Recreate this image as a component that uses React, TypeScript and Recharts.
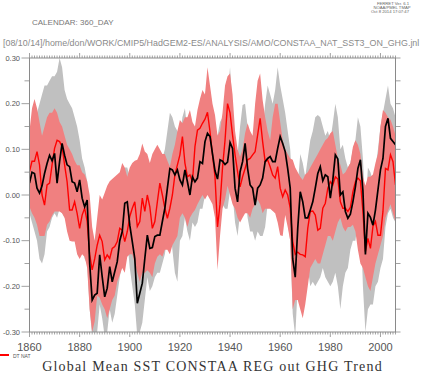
import React from 'react';
import { ComposedChart, Area, Line, XAxis, YAxis } from 'recharts';

// Years 1860..2006 (annual)
const years: number[] = Array.from({ length: 147 }, (_, i) => 1860 + i);

// Observed detrended SST (black line)
const obsDT = [
  0.026, 0.050, 0.047, 0.015, 0.004, 0.020, 0.047, 0.069, 0.087, 0.075,
  0.091, 0.026, 0.073, 0.113, 0.087, 0.066, 0.062, 0.029, 0.026, 0.007,
  0.033, -0.007, -0.026, -0.011, -0.150, -0.230, -0.219, -0.215, -0.131, -0.179,
  -0.223, -0.204, -0.157, -0.190, -0.168, -0.146, -0.100, -0.080, -0.018, -0.015,
  -0.066, -0.102, -0.139, -0.237, -0.215, -0.193, -0.139, -0.088, -0.117, -0.115,
  -0.091, -0.088, -0.088, -0.058, -0.029, 0.015, 0.058, 0.055, 0.044, 0.055,
  0.033, 0.022, 0.055, 0.029, 0.000, 0.040, 0.029, 0.037, 0.073, 0.069,
  0.117, 0.135, 0.128, 0.090, 0.053, 0.035, 0.077, 0.074, 0.067, 0.072,
  0.115, 0.102, 0.015, -0.015, 0.051, 0.073, 0.113, 0.058, 0.022, 0.015,
  -0.022, 0.015, 0.022, 0.037, 0.073, 0.080, 0.084, 0.073, 0.073, 0.102,
  0.128, 0.113, 0.095, 0.058, 0.015, -0.140, -0.180, -0.073, 0.007, -0.015,
  -0.050, -0.050, -0.033, -0.015, 0.015, 0.047, 0.062, 0.031, 0.044, 0.040,
  -0.007, 0.033, 0.088, 0.079, 0.000, 0.007, -0.036, -0.051, -0.042, -0.015,
  0.018, 0.058, 0.077, 0.010, -0.130, -0.040, -0.049, -0.066, -0.033, 0.011,
  0.055, 0.080, 0.150, 0.168, 0.124, 0.117, 0.110,
];

// DT NAT ensemble mean (red line)
const natDT = [
  0.051, 0.074, 0.074, 0.095, 0.066, 0.000, -0.022, 0.022, 0.026, 0.066,
  0.102, 0.120, 0.117, 0.106, 0.066, 0.029, -0.033, -0.033, -0.015, -0.040,
  -0.073, -0.044, -0.029, -0.058, -0.130, -0.164, -0.140, -0.110, -0.088, -0.102,
  -0.142, -0.131, -0.139, -0.117, -0.113, -0.102, -0.073, -0.077, -0.102, -0.080,
  -0.047, -0.029, -0.015, -0.069, -0.058, -0.007, -0.036, 0.000, -0.026, -0.073,
  -0.058, -0.015, 0.026, 0.000, -0.029, -0.051, -0.029, 0.000, 0.044, 0.066,
  0.088, 0.128, 0.070, 0.040, 0.044, 0.029, 0.106, 0.142, 0.146, 0.157,
  0.166, 0.181, 0.139, 0.088, 0.040, -0.070, -0.020, 0.060, 0.120, 0.200,
  0.180, 0.131, 0.088, 0.051, 0.018, 0.040, 0.058, 0.077, 0.080, 0.088,
  0.095, 0.131, 0.168, 0.117, 0.073, 0.077, 0.062, 0.044, 0.037, 0.062,
  0.015, -0.004, 0.011, 0.000, -0.029, -0.102, -0.130, -0.125, -0.130, -0.131,
  -0.135, -0.073, -0.036, -0.035, -0.044, -0.077, -0.073, -0.029, -0.018, 0.015,
  0.029, 0.022, 0.040, 0.035, -0.015, -0.029, -0.029, -0.036, -0.027, 0.007,
  0.029, 0.037, 0.031, -0.036, -0.124, -0.095, -0.117, -0.069, -0.058, -0.088,
  -0.088, -0.036, 0.058, 0.055, 0.088, 0.073, 0.022,
];

// DT NAT ensemble range (pink band)
const natHi = [
  0.14, 0.19, 0.21, 0.19, 0.16, 0.13, 0.15, 0.17, 0.18, 0.18,
  0.19, 0.18, 0.16, 0.15, 0.13, 0.11, 0.10, 0.09, 0.075, 0.065,
  0.065, 0.05, 0.045, 0.03, 0.0, -0.07, -0.10, -0.05, 0.0, -0.01,
  0.005, 0.02, 0.03, 0.035, 0.04, 0.045, 0.05, 0.07, 0.06, 0.04,
  0.06, 0.07, 0.075, 0.077, 0.09, 0.113, 0.095, 0.09, 0.07, 0.09,
  0.10, 0.11, 0.10, 0.09, 0.09, 0.075, 0.062, 0.09, 0.11, 0.14,
  0.164, 0.157, 0.17, 0.17, 0.186, 0.16, 0.15, 0.186, 0.21, 0.23,
  0.22, 0.28, 0.24, 0.20, 0.175, 0.13, 0.14, 0.18, 0.24, 0.26,
  0.266, 0.22, 0.14, 0.10, 0.084, 0.10, 0.135, 0.157, 0.14, 0.13,
  0.20, 0.25, 0.266, 0.208, 0.17, 0.14, 0.12, 0.17, 0.20, 0.20,
  0.16, 0.12, 0.10, 0.09, 0.08, 0.077, 0.06, 0.05, 0.04, 0.033,
  0.045, 0.05, 0.06, 0.07, 0.08, 0.09, 0.10, 0.11, 0.12, 0.125,
  0.135, 0.14, 0.11, 0.08, 0.066, 0.045, 0.05, 0.06, 0.07, 0.105,
  0.12, 0.11, 0.09, 0.04, 0.02, 0.04, 0.04, 0.045, 0.07, 0.09,
  0.15, 0.186, 0.18, 0.17, 0.165, 0.15, 0.13,
];
const natLo = [
  -0.026, -0.04, -0.05, -0.065, -0.09, -0.09, -0.09, -0.065, -0.058, -0.045,
  -0.036, -0.036, -0.036, -0.04, -0.05, -0.08, -0.10, -0.102, -0.102, -0.13,
  -0.14, -0.13, -0.135, -0.16, -0.25, -0.30, -0.277, -0.22, -0.225, -0.24,
  -0.25, -0.27, -0.25, -0.23, -0.22, -0.19, -0.175, -0.16, -0.17, -0.135,
  -0.13, -0.13, -0.15, -0.17, -0.19, -0.17, -0.17, -0.165, -0.17, -0.18,
  -0.15, -0.135, -0.13, -0.135, -0.12, -0.12, -0.13, -0.11, -0.10, -0.09,
  -0.05, -0.04, -0.05, -0.07, -0.05, -0.04, -0.033, -0.02, -0.01, 0.0,
  -0.01, 0.0, -0.01, -0.02, -0.05, -0.164, -0.09, -0.03, -0.01, 0.02,
  0.0, -0.02, -0.03, -0.05, -0.06, -0.05, -0.04, -0.04, -0.05, -0.03,
  -0.02, -0.01, -0.02, -0.04, -0.03, -0.03, -0.03, -0.035, -0.04, -0.06,
  -0.088, -0.09, -0.044, -0.07, -0.10, -0.25, -0.23, -0.23, -0.25, -0.27,
  -0.24, -0.20, -0.16, -0.15, -0.14, -0.15, -0.15, -0.13, -0.11, -0.09,
  -0.09, -0.10, -0.08, -0.06, -0.05, -0.07, -0.08, -0.07, -0.07, -0.065,
  -0.08, -0.12, -0.15, -0.16, -0.18, -0.20, -0.21, -0.18, -0.15, -0.13,
  -0.11, -0.09, -0.05, -0.035, -0.02, -0.04, -0.06,
];

// Spread (grey band)
const spreadHi = [
  0.12, 0.12, 0.14, 0.18, 0.20, 0.22, 0.24, 0.24, 0.25, 0.26,
  0.26, 0.27, 0.30, 0.28, 0.23, 0.21, 0.20, 0.19, 0.17, 0.15,
  0.12, 0.08, 0.06, 0.03, -0.05, -0.10, -0.10, -0.07, -0.03, -0.06,
  -0.10, -0.08, -0.05, -0.05, -0.03, -0.02, 0.0, 0.03, 0.06, 0.06,
  0.04, 0.02, 0.0, -0.08, -0.06, -0.05, 0.0, 0.03, 0.02, 0.0,
  0.03, 0.03, 0.04, 0.08, 0.10, 0.14, 0.18, 0.17, 0.15, 0.14,
  0.13, 0.17, 0.19, 0.14, 0.10, 0.14, 0.13, 0.14, 0.17, 0.17,
  0.22, 0.24, 0.23, 0.19, 0.15, 0.13, 0.16, 0.17, 0.16, 0.22,
  0.28, 0.19, 0.12, 0.09, 0.15, 0.197, 0.20, 0.15, 0.12, 0.11,
  0.10, 0.13, 0.14, 0.14, 0.20, 0.24, 0.22, 0.20, 0.23, 0.28,
  0.24, 0.21, 0.18, 0.14, 0.10, 0.0, -0.05, 0.02, 0.09, 0.07,
  0.04, 0.08, 0.12, 0.14, 0.17, 0.175, 0.17, 0.15, 0.13, 0.14,
  0.12, 0.157, 0.20, 0.17, 0.10, 0.11, 0.08, 0.06, 0.07, 0.10,
  0.12, 0.17, 0.15, 0.08, -0.03, 0.06, 0.05, 0.03, 0.06, 0.10,
  0.15, 0.18, 0.21, 0.24, 0.20, 0.19, 0.17,
];
const spreadLo = [
  -0.04, -0.06, -0.08, -0.10, -0.14, -0.15, -0.13, -0.08, -0.07, -0.05,
  -0.04, -0.05, -0.03, -0.04, -0.05, -0.06, -0.07, -0.08, -0.09, -0.10,
  -0.10, -0.12, -0.14, -0.15, -0.25, -0.31, -0.31, -0.30, -0.24, -0.27,
  -0.31, -0.30, -0.25, -0.28, -0.26, -0.22, -0.18, -0.15, -0.12, -0.10,
  -0.16, -0.20, -0.24, -0.31, -0.30, -0.28, -0.23, -0.18, -0.21, -0.20,
  -0.18, -0.17, -0.17, -0.15, -0.13, -0.09, -0.06, -0.12, -0.17, -0.19,
  -0.10, -0.09, -0.05, -0.08, -0.10, -0.06, -0.07, -0.06, -0.03, -0.03,
  0.0, 0.03, 0.02, -0.01, -0.04, -0.07, -0.03, -0.02, -0.03, -0.03,
  0.01, 0.0, -0.06, -0.09, -0.04, -0.03, 0.0, -0.05, -0.08, -0.08,
  -0.10, -0.08, -0.09, -0.09, -0.07, -0.02, -0.01, -0.03, -0.04, -0.02,
  0.0, 0.0, -0.03, -0.06, -0.10, -0.26, -0.31, -0.20, -0.12, -0.14,
  -0.17, -0.16, -0.20, -0.19, -0.20, -0.19, -0.18, -0.16, -0.18, -0.19,
  -0.20, -0.19, -0.17, -0.20, -0.25, -0.20, -0.17, -0.16, -0.12, -0.10,
  -0.10, -0.06, -0.04, -0.20, -0.30, -0.25, -0.24, -0.24, -0.20, -0.19,
  -0.16, -0.14, -0.07, -0.04, -0.03, -0.05, -0.06,
];

const yearLabels = [1860, 1880, 1900, 1920, 1940, 1960, 1980, 2000];
const yTicks = [-0.3, -0.25, -0.2, -0.15, -0.1, -0.05, 0, 0.05, 0.1, 0.15, 0.2, 0.25, 0.3];
const yLabels = ['-0.30', '-0.20', '-0.10', '0.00', '0.10', '0.20', '0.30'];

const data = years.map((year, i) => ({
  year,
  spread: [spreadLo[i], spreadHi[i]],
  nat: [natLo[i], natHi[i]],
  natMean: natDT[i],
  obs: obsDT[i],
}));

const AXIS = '#8a8a8a';
const LABEL = '#555';
const SANS = '"Liberation Sans", Arial, sans-serif';

const isMajorYear = (v: number) => yearLabels.includes(v);
const labelFor = (v: number) => yLabels.find((s) => Math.abs(parseFloat(s) - v) < 1e-6);

const BottomTick = (props: any) => {
  const { x, y, payload } = props;
  const v = payload.value;
  const major = isMajorYear(v);
  return (
    <g>
      <line x1={x} x2={x} y1={y} y2={y + (major ? 5 : 2.5)} stroke={AXIS} strokeWidth={0.8} />
      {major && (
        <text x={x} y={y + 19} textAnchor="middle" fontSize={11} fill={LABEL} fontFamily={SANS}>
          {v}
        </text>
      )}
    </g>
  );
};

const TopTick = (props: any) => {
  const { x, y, payload } = props;
  const major = isMajorYear(payload.value);
  return <line x1={x} x2={x} y1={y} y2={y - (major ? 5 : 2.5)} stroke={AXIS} strokeWidth={0.8} />;
};

const LeftTick = (props: any) => {
  const { x, y, payload } = props;
  const lab = labelFor(payload.value);
  return (
    <g>
      <line x1={x} x2={x - (lab ? 8 : 5)} y1={y} y2={y} stroke={AXIS} strokeWidth={0.8} />
      {lab && (
        <text x={x - 9.5} y={y + 2.6} textAnchor="end" fontSize={7.5} fill={LABEL} fontFamily={SANS}>
          {lab}
        </text>
      )}
    </g>
  );
};

const RightTick = (props: any) => {
  const { x, y } = props;
  return <line x1={x} x2={x + 5} y1={y} y2={y} stroke={AXIS} strokeWidth={0.8} />;
};

export default function App() {
  return (
    <div style={{ position: 'absolute', left: 0, top: 0, width: 426, height: 373, background: '#fff' }}>
      <ComposedChart width={426} height={373} data={data} margin={{ top: 57, right: 29.5, bottom: 40, left: 28.5 }}>
        <XAxis
          dataKey="year"
          type="number"
          domain={[1860, 2006]}
          allowDataOverflow
          ticks={years}
          interval={0}
          height={1}
          tickSize={0}
          tickMargin={0}
          tickLine={false}
          axisLine={{ stroke: AXIS }}
          tick={(p: any) => <BottomTick {...p} />}
        />
        <XAxis
          xAxisId="top"
          orientation="top"
          dataKey="year"
          type="number"
          domain={[1860, 2006]}
          allowDataOverflow
          ticks={years}
          interval={0}
          height={1}
          tickSize={0}
          tickMargin={0}
          tickLine={false}
          axisLine={{ stroke: AXIS }}
          tick={(p: any) => <TopTick {...p} />}
        />
        <YAxis
          type="number"
          domain={[-0.3, 0.3]}
          allowDataOverflow
          ticks={yTicks}
          interval={0}
          width={1}
          tickSize={0}
          tickMargin={0}
          tickLine={false}
          axisLine={{ stroke: AXIS }}
          tick={(p: any) => <LeftTick {...p} />}
        />
        <YAxis
          yAxisId="right"
          orientation="right"
          type="number"
          domain={[-0.3, 0.3]}
          allowDataOverflow
          ticks={yTicks}
          interval={0}
          width={1}
          tickSize={0}
          tickMargin={0}
          tickLine={false}
          axisLine={{ stroke: AXIS }}
          tick={(p: any) => <RightTick {...p} />}
        />
        <Area dataKey="spread" type="linear" fill="#c0c0c0" fillOpacity={1} stroke="none" isAnimationActive={false} />
        <Area dataKey="nat" type="linear" fill="#f08080" fillOpacity={1} stroke="none" isAnimationActive={false} />
        <Line dataKey="natMean" type="linear" stroke="#ff0000" strokeWidth={1.4} dot={false} isAnimationActive={false} />
        <Line dataKey="obs" type="linear" stroke="#000000" strokeWidth={1.7} dot={false} isAnimationActive={false} />
      </ComposedChart>
      <svg width={426} height={373} style={{ position: 'absolute', left: 0, top: 0, pointerEvents: 'none' }}>
        <g fontFamily={SANS} fill="#666" fontSize={4.2} textAnchor="middle">
          <text x={393} y={4.5}>FERRET Ver. 6.1</text>
          <text x={392} y={8.7}>NOAA/PMEL TMAP</text>
          <text x={390} y={12.9}>Oct  8 2014 17:07:47</text>
        </g>
        <text x={32} y={25} fontFamily={SANS} fontSize={8} fill="#777">CALENDAR: 360_DAY</text>
        <text x={3} y={45.5} fontFamily={SANS} fontSize={8.9} fill="#8a8a8a">
          [08/10/14]/home/don/WORK/CMIP5/HadGEM2-ES/ANALYSIS/AMO/CONSTAA_NAT_SST3_ON_GHG.jnl
        </text>
        <line x1={0} x2={9} y1={355} y2={355} stroke="#ff0000" strokeWidth={2} />
        <text x={13} y={357.5} fontFamily={SANS} fontSize={5} fill="#555">DT NAT</text>
        <text x={212.5} y={371} textAnchor="middle" fontFamily='"Liberation Serif", "Times New Roman", serif' fontSize={14} letterSpacing={1.2} fill="#333">
          Global Mean SST CONSTAA REG out GHG Trend
        </text>
      </svg>
    </div>
  );
}
